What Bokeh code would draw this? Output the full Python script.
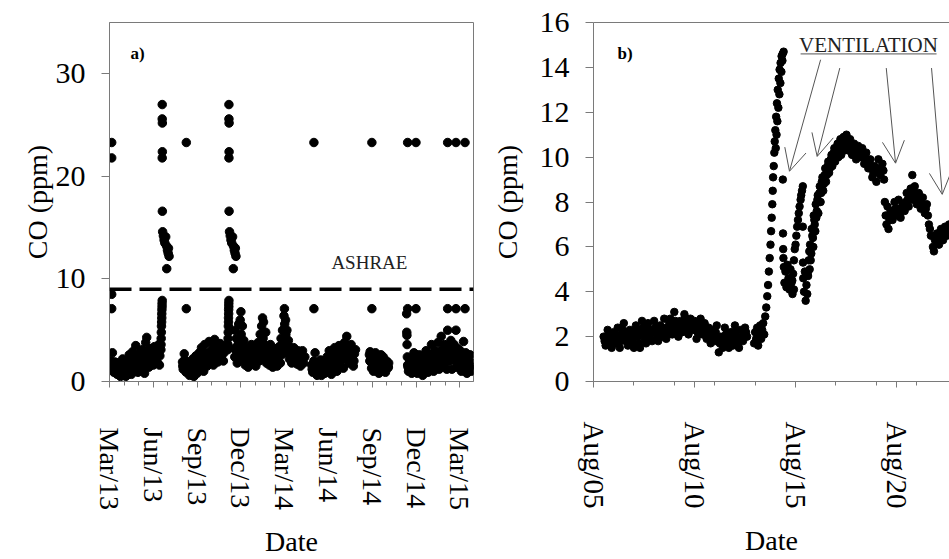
from bokeh.plotting import figure
from bokeh.models import Range1d, FixedTicker, Span, Label, Arrow, OpenHead, LinearAxis
from bokeh.layouts import row
from bokeh.embed import file_html
from bokeh.resources import INLINE

SERIF = "Liberation Serif"
FRAME = "#7a7a7a"

# ---------------- Panel a: months since Mar 2013 ----------------
a_tick_pos = [0, 3, 6, 9, 12, 15, 18, 21, 24]
a_tick_labels = ["Mar/13", "Jun/13", "Sep/13", "Dec/13", "Mar/14",
                 "Jun/14", "Sep/14", "Dec/14", "Mar/15"]
a_minor_pos = list(range(0, 25))
ashrae_limit = 9

a1_month = [0.05, 0.10, 0.15, 0.20, 0.25, 0.30, 0.38, 0.45, 0.52, 0.60, 0.68, 0.75, 0.82, 0.90, 0.98, 1.05,
            1.12, 1.20, 1.28, 1.35, 1.42, 1.50, 1.58, 1.65, 1.72, 1.80, 1.88, 1.95, 2.02, 2.10, 2.18, 2.25,
            2.33, 2.40, 2.48, 2.55, 2.62, 2.70, 2.78, 2.85, 2.92, 3.00, 3.08, 3.15, 3.22, 3.30, 3.38, 3.45]
a1_co = [1.6, 2.0, 1.2, 2.8, 1.5, 0.9, 1.9, 1.3, 0.7, 1.8, 1.1, 0.5, 1.5, 2.2, 0.8, 1.3,
         0.5, 2.0, 1.0, 2.6, 1.5, 0.7, 2.9, 1.8, 1.1, 3.5, 2.3, 0.9, 1.6, 2.8, 1.2, 3.1,
         2.0, 0.8, 3.8, 4.3, 2.4, 1.4, 3.2, 2.0, 2.7, 1.6, 3.4, 2.2, 2.9, 1.8, 3.6, 2.5]
a1h_month = [0.09, 0.22, 0.34, 0.48, 0.64, 0.78, 0.94, 1.09, 1.24, 1.38, 1.54, 1.68, 1.84, 1.98, 2.14,
             2.29, 2.44, 2.58, 2.74, 2.88, 3.04, 3.19, 3.34, 3.42]
a1h_co = [1.3, 1.9, 1.4, 1.0, 1.4, 0.9, 1.6, 0.9, 1.5, 2.1, 1.2, 2.3, 1.5, 2.2, 1.9,
          1.4, 2.6, 3.0, 2.6, 1.7, 2.6, 2.0, 2.9, 1.6]

a_jun_month = [3.52, 3.53, 3.54, 3.55, 3.56, 3.57, 3.58, 3.58, 3.59, 3.60, 3.60, 3.61,
               3.61, 3.61, 3.62, 3.62, 3.61, 3.62,
               3.64, 3.69, 3.74, 3.79, 3.85, 3.91, 3.97, 4.02, 4.08, 4.04, 3.92]
a_jun_co = [3.1, 3.6, 4.2, 4.8, 5.4, 5.8, 6.2, 6.6, 7.0, 7.3, 7.6, 7.9,
            27.0, 25.6, 25.2, 22.4, 21.8, 16.6,
            14.6, 14.2, 13.8, 13.5, 14.1, 13.2, 12.8, 12.5, 12.2, 13.0, 11.0]

a2_month = [5.00, 5.05, 5.12, 5.18, 5.25, 5.32, 5.40, 5.48, 5.55, 5.62, 5.70, 5.78, 5.85, 5.92, 6.00, 6.08,
            6.15, 6.22, 6.30, 6.38, 6.45, 6.52, 6.60, 6.68, 6.75, 6.82, 6.90, 6.98, 7.05, 7.12, 7.20, 7.28,
            7.35, 7.42, 7.50, 7.58, 7.65, 7.72, 7.80, 7.88]
a2_co = [1.9, 1.2, 2.7, 1.6, 0.9, 1.9, 1.3, 0.6, 1.6, 0.9, 2.2, 0.5, 1.4, 2.5, 0.8, 1.8,
         2.8, 1.1, 3.3, 2.0, 1.0, 3.6, 2.3, 1.5, 2.8, 3.9, 1.8, 2.6, 3.2, 1.6, 4.1, 2.6,
         3.4, 1.9, 2.9, 3.7, 2.3, 3.0, 2.0, 3.5]
a2h_month = [5.02, 5.15, 5.28, 5.44, 5.58, 5.74, 5.88, 6.04, 6.18, 6.34, 6.48, 6.64, 6.78, 6.94, 7.08,
             7.24, 7.38, 7.54, 7.68, 7.84]
a2h_co = [1.5, 2.1, 1.3, 1.0, 1.2, 1.5, 1.9, 1.3, 2.2, 2.6, 1.5, 1.9, 2.1, 2.2, 2.4,
          3.4, 2.4, 2.4, 2.6, 2.8]

a_dec_month = [8.10, 8.11, 8.12, 8.13, 8.14, 8.15, 8.15, 8.16, 8.16, 8.17, 8.17, 8.18,
               8.18, 8.18, 8.19, 8.19, 8.18, 8.19,
               8.22, 8.27, 8.32, 8.37, 8.43, 8.49, 8.55, 8.60, 8.66, 8.62, 8.48]
a_dec_co = [3.1, 3.6, 4.2, 4.8, 5.4, 5.8, 6.2, 6.6, 7.0, 7.3, 7.6, 7.9,
            27.0, 25.6, 25.2, 22.4, 21.8, 16.6,
            14.6, 14.2, 13.8, 13.5, 14.1, 13.2, 12.8, 12.5, 12.2, 13.0, 11.0]

a3_month = [8.55, 8.60, 8.65, 8.70, 8.75, 8.80, 8.85, 8.90, 8.95, 9.00, 9.02, 9.05, 9.10, 9.15, 9.20, 9.25,
            9.30, 9.35, 9.42, 9.50, 9.58, 9.65, 9.72, 9.80, 9.88, 9.95, 10.02, 10.10, 10.18, 10.25, 10.32,
            10.38, 10.42, 10.48, 10.52, 10.55, 10.60, 10.65, 10.70, 10.75, 10.82, 10.88, 10.95, 11.02, 11.10,
            11.18, 11.25, 11.32, 11.40, 11.48, 11.55, 11.62, 11.70, 11.75, 11.80, 11.85, 11.90, 11.95, 11.98,
            12.00, 12.03, 12.06, 12.10, 12.15, 12.20, 12.25, 12.32, 12.40, 12.48, 12.55, 12.62, 12.70, 12.78,
            12.85, 12.92, 13.00, 13.08, 13.15, 13.22, 13.30, 13.38]
a3_co = [3.2, 5.0, 2.4, 4.2, 1.8, 3.6, 5.6, 2.9, 6.0, 6.8, 4.6, 3.4, 5.4, 2.2, 4.0, 2.8,
         1.6, 3.3, 2.4, 1.4, 3.0, 2.0, 3.6, 1.7, 2.6, 3.3, 1.5, 2.4, 3.8, 2.0, 4.6,
         3.0, 5.4, 6.2, 4.2, 5.8, 3.6, 2.4, 4.8, 1.8, 3.4, 2.6, 1.6, 3.6, 2.2,
         1.4, 2.9, 2.0, 3.2, 1.5, 2.5, 3.4, 1.8, 4.2, 2.6, 5.0, 3.3, 6.4, 7.1,
         5.6, 4.4, 6.0, 3.6, 5.0, 2.8, 4.0, 2.2, 3.3, 1.8, 2.9, 3.3, 2.1, 2.8,
         1.7, 3.0, 2.2, 1.5, 2.6, 3.0, 1.8, 2.4]
a3h_month = [8.58, 8.72, 8.88, 9.08, 9.22, 9.38, 9.54, 9.68, 9.84, 9.99, 10.14, 10.29, 10.45, 10.62, 10.78,
             10.92, 11.06, 11.22, 11.36, 11.52, 11.66, 11.82, 12.08, 12.22, 12.36, 12.52, 12.66, 12.88,
             13.04, 13.26]
a3h_co = [2.4, 3.0, 4.0, 2.9, 3.2, 2.1, 2.2, 2.6, 2.2, 2.0, 3.0, 2.9, 3.4, 3.0, 2.6,
          2.2, 2.8, 1.8, 2.6, 2.4, 2.6, 3.6, 4.6, 3.4, 2.6, 2.3, 2.6, 2.4, 1.9, 2.3]

a4_month = [13.85, 13.92, 14.00, 14.08, 14.15, 14.22, 14.30, 14.38, 14.45, 14.52, 14.60, 14.68, 14.75, 14.82,
            14.90, 14.98, 15.05, 15.12, 15.20, 15.28, 15.35, 15.42, 15.50, 15.58, 15.65, 15.72, 15.80, 15.88,
            15.95, 16.02, 16.10, 16.18, 16.25, 16.32, 16.40, 16.48, 16.55, 16.62, 16.70, 16.78, 16.85]
a4_co = [1.6, 0.9, 2.0, 2.8, 1.2, 0.6, 1.7, 1.0, 2.1, 0.6, 1.4, 2.0, 0.8, 1.6,
         2.4, 1.0, 3.0, 1.8, 0.7, 2.6, 1.4, 3.3, 2.0, 1.0, 2.8, 3.5, 1.6, 2.5,
         3.0, 1.3, 3.8, 2.2, 4.4, 3.2, 1.8, 2.9, 3.6, 2.3, 1.5, 2.7, 3.1]
a4h_month = [13.88, 14.04, 14.19, 14.34, 14.48, 14.64, 14.79, 14.94, 15.09, 15.24, 15.39, 15.54, 15.69,
             15.84, 15.99, 16.14, 16.29, 16.44, 16.59, 16.74]
a4h_co = [1.2, 1.4, 1.6, 1.3, 1.5, 1.1, 1.2, 1.7, 2.3, 1.6, 2.4, 1.5, 2.0,
          2.1, 2.3, 3.0, 2.6, 2.4, 2.9, 2.0]

a5_month = [17.80, 17.85, 17.90, 17.95, 18.02, 18.08, 18.15, 18.22, 18.30, 18.38,
            18.45, 18.52, 18.60, 18.68, 18.75, 18.82, 18.90, 18.98, 19.05, 19.12]
a5_co = [2.6, 2.9, 1.9, 1.3, 2.4, 1.0, 1.8, 2.8, 1.2, 2.0,
         0.8, 1.6, 2.6, 1.0, 2.4, 1.4, 0.9, 2.0, 1.3, 1.8]
a5h_month = [17.83, 17.98, 18.12, 18.26, 18.42, 18.56, 18.72, 18.86, 19.00, 19.10]
a5h_co = [2.0, 1.8, 1.4, 2.0, 1.5, 2.0, 1.7, 1.8, 1.5, 1.4]

a6_month = [20.35, 20.36, 20.37, 20.38, 20.40, 20.42, 20.48, 20.55, 20.62, 20.70, 20.78, 20.85, 20.92, 21.00,
            21.08, 21.15, 21.22, 21.30, 21.38, 21.45, 21.52, 21.60, 21.68, 21.75, 21.82, 21.90, 21.98, 22.05,
            22.12, 22.20, 22.28, 22.35, 22.42, 22.50, 22.58, 22.65, 22.72, 22.80, 22.88, 22.95, 23.02, 23.10,
            23.16, 23.22, 23.30, 23.38, 23.45, 23.52, 23.60, 23.68, 23.73, 23.80, 23.88, 23.95, 24.02, 24.10,
            24.18, 24.25, 24.32, 24.40, 24.48, 24.55, 24.62, 24.70, 24.78, 24.85, 24.90]
a6_co = [6.6, 4.8, 4.5, 3.6, 2.4, 1.6, 1.0, 2.2, 1.4, 0.8, 1.8, 2.8, 1.2, 2.0,
         0.8, 1.5, 2.6, 1.0, 1.8, 0.6, 2.4, 1.2, 3.0, 1.8, 0.9, 2.6, 1.5, 3.6,
         2.2, 1.0, 3.0, 1.8, 2.6, 3.8, 1.2, 2.2, 4.4, 3.0, 1.6, 3.6, 2.4, 1.2,
         5.0, 3.4, 2.0, 4.0, 1.2, 2.8, 3.6, 2.0, 5.0, 1.4, 3.2, 2.2, 3.0, 1.0,
         2.4, 3.9, 1.6, 2.8, 0.8, 2.0, 1.4, 2.6, 1.0, 1.8, 1.2]
a6h_month = [20.45, 20.58, 20.74, 20.88, 21.04, 21.18, 21.34, 21.48, 21.64, 21.79, 21.94, 22.09, 22.24,
             22.39, 22.54, 22.69, 22.84, 22.99, 23.14, 23.26, 23.42, 23.56, 23.71, 23.84, 23.99, 24.14,
             24.29, 24.44, 24.59, 24.74]
a6h_co = [1.4, 1.8, 1.2, 2.0, 1.4, 2.0, 1.4, 1.4, 1.8, 1.3, 2.0, 2.6, 1.7,
          2.2, 2.4, 3.0, 2.3, 2.8, 2.0, 2.6, 2.6, 2.2, 2.8, 2.4, 1.8, 1.8,
          2.2, 1.8, 2.0, 1.5]

a_out_month = [0.15, 0.15, 0.15, 0.15, 5.26, 5.26, 14.0, 14.0, 17.97, 17.97,
               20.42, 20.42, 20.99, 20.99, 23.16, 23.16, 23.73, 23.73, 24.35, 24.35]
a_out_co = [23.3, 21.8, 8.5, 7.1, 23.3, 7.1, 23.3, 7.1, 23.3, 7.1,
            23.3, 7.1, 23.3, 7.1, 23.3, 7.1, 23.3, 7.1, 23.3, 7.1]

# ---------------- Panel b: day of August ----------------
b_tick_pos = [5, 10, 15, 20]
b_tick_labels = ["Aug/05", "Aug/10", "Aug/15", "Aug/20"]
b_minor_pos = [5, 7, 9, 11, 13, 15, 17, 19, 21]

b1_day = [5.5, 5.6, 5.7, 5.8, 5.9, 6.0, 6.1, 6.2, 6.3, 6.4, 6.5, 6.6, 6.7, 6.8, 6.9, 7.0, 7.1, 7.2,
          7.3, 7.4, 7.5, 7.6, 7.7, 7.8, 7.9, 8.0, 8.1, 8.2, 8.3, 8.4, 8.5, 8.6, 8.7, 8.8, 8.9, 9.0,
          9.1, 9.2, 9.3, 9.4, 9.5, 9.6, 9.7, 9.8, 9.9, 10.0, 10.1, 10.2, 10.3, 10.4, 10.5, 10.6, 10.7,
          10.8, 10.9, 11.0, 11.1, 11.2, 11.3, 11.4, 11.5, 11.6, 11.7, 11.8, 11.9, 12.0, 12.1, 12.2,
          12.3, 12.4, 12.5, 12.6]
b1_co = [2.0, 1.6, 2.3, 1.8, 1.5, 2.2, 1.7, 2.4, 1.5, 2.0, 2.6, 1.8, 1.6, 2.3, 1.9, 1.5, 2.5, 2.0,
         1.5, 2.7, 2.1, 1.7, 2.6, 2.0, 1.8, 2.7, 2.2, 1.8, 2.5, 2.0, 2.8, 1.9, 2.4, 2.8, 2.1, 3.1,
         2.4, 2.0, 2.7, 2.2, 3.0, 2.6, 2.1, 2.8, 2.3, 2.7, 1.9, 2.5, 2.8, 2.1, 2.6, 1.9, 2.4,
         1.7, 2.3, 1.8, 2.5, 1.3, 2.0, 1.5, 2.4, 1.8, 1.5, 2.2, 1.6, 2.5, 1.9, 1.5,
         2.3, 1.8, 2.4, 2.0]

b1h_day = [5.55, 5.65, 5.75, 5.85, 5.95, 6.05, 6.15, 6.25, 6.35, 6.45, 6.55, 6.65, 6.75, 6.85, 6.95,
           7.05, 7.15, 7.25, 7.35, 7.45, 7.55, 7.65, 7.75, 7.85, 7.95, 8.05, 8.15, 8.25, 8.35, 8.45,
           8.55, 8.65, 8.75, 8.85, 8.95, 9.05, 9.15, 9.25, 9.35, 9.45, 9.55, 9.65, 9.75, 9.85, 9.95,
           10.05, 10.15, 10.25, 10.35, 10.45, 10.55, 10.65, 10.75, 10.85, 10.95, 11.05, 11.15, 11.25,
           11.35, 11.45, 11.55, 11.65, 11.75, 11.85, 11.95, 12.05, 12.15, 12.25, 12.35, 12.45, 12.55]
b1h_co = [1.8, 2.0, 2.1, 1.6, 1.9, 2.0, 2.1, 1.8, 1.8, 2.3, 2.2, 1.9, 2.0, 2.1, 1.7,
          2.0, 2.3, 1.7, 2.1, 2.4, 1.9, 2.2, 2.3, 2.3, 2.2, 2.4, 2.0, 2.2, 2.2, 2.4,
          2.3, 2.2, 2.6, 2.4, 2.6, 2.7, 2.2, 2.4, 2.4, 2.6, 2.8, 2.3, 2.5, 2.5, 2.5,
          2.3, 2.2, 2.6, 2.4, 2.4, 2.2, 2.2, 2.0, 2.0, 2.1, 2.2, 1.9, 1.7,
          1.7, 2.0, 2.1, 1.6, 1.9, 1.9, 2.1, 2.2, 1.7, 1.9, 2.0, 2.1, 2.2]

b2_day = [12.95, 13.0, 13.05, 13.1, 13.15, 13.2, 13.25, 13.3, 13.35, 13.4, 13.45, 13.5]
b2_co = [1.7, 2.2, 1.9, 2.4, 1.6, 2.1, 2.5, 1.9, 2.3, 2.6, 2.1, 2.9]

b3_day = [13.55, 13.6, 13.64, 13.68, 13.72, 13.76, 13.79, 13.82, 13.85, 13.87, 13.89, 13.92, 13.95,
          13.97, 14.0, 14.04, 14.08, 14.12, 14.17, 14.21, 14.26, 14.31, 14.36, 14.41,
          14.02, 14.06, 14.1, 14.15, 14.2, 14.25, 14.3, 14.35]
b3_co = [3.3, 3.8, 4.3, 4.9, 5.5, 6.1, 6.7, 7.3, 7.9, 8.5, 9.1, 9.6, 10.2,
         10.7, 11.2, 11.8, 12.4, 13.0, 13.5, 13.9, 14.2, 14.5, 14.6, 14.7,
         10.4, 11.0, 11.6, 12.2, 12.8, 13.3, 13.8, 14.3]

b4_day = [14.37, 14.38, 14.39, 14.40, 14.42, 14.45, 14.5, 14.55, 14.6, 14.65, 14.7, 14.75, 14.8,
          14.85, 14.88, 14.92]
b4_co = [9.0, 6.6, 5.9, 5.5, 5.1, 4.4, 4.9, 4.2, 5.2, 4.6, 4.1, 5.0, 4.4, 3.9, 4.8, 4.1]

b5_day = [14.84, 14.92, 14.96, 15.0, 15.04, 15.08, 15.12, 15.16, 15.2, 15.25, 15.28, 15.32, 15.36,
          15.36, 15.37, 15.38, 15.42, 15.46, 15.5, 15.54, 15.58, 15.62]
b5_co = [4.5, 5.4, 5.9, 6.1, 6.5, 6.9, 7.2, 7.5, 7.8, 8.1, 8.3, 8.5, 8.7,
         6.9, 5.3, 4.6, 4.0, 4.9, 3.6, 4.3, 3.9, 4.7]

b6_day = [15.6, 15.65, 15.7, 15.72, 15.78, 15.8, 15.86, 15.9, 15.95, 16.0, 16.05, 16.1, 16.15, 16.2,
          16.27, 16.33, 16.4, 16.47, 16.55, 16.62, 16.7, 16.78, 16.85, 16.92, 17.0, 17.08, 17.15,
          17.22, 17.3, 17.38, 17.45, 17.52]
b6_co = [4.8, 5.4, 5.0, 6.1, 5.7, 6.8, 6.4, 7.4, 7.0, 7.9, 7.6, 8.3, 8.0, 8.7,
         8.4, 9.1, 8.8, 9.5, 9.2, 9.8, 9.5, 10.1, 9.8, 10.4, 10.0, 10.6, 10.2,
         10.8, 10.3, 10.9, 10.5, 11.0]

b6h_day = [15.68, 15.75, 15.83, 15.88, 15.93, 15.98, 16.03, 16.08, 16.13, 16.18, 16.24, 16.3, 16.37,
           16.44, 16.51, 16.59, 16.66, 16.74, 16.82, 16.89, 16.96, 17.04, 17.12, 17.19, 17.26, 17.34,
           17.42, 17.49, 17.56]
b6h_co = [5.8, 5.4, 6.5, 6.0, 7.2, 6.7, 7.3, 8.1, 7.5, 8.4, 8.0, 8.9, 8.5,
          9.2, 8.9, 9.6, 9.3, 9.9, 9.6, 10.2, 9.8, 10.4, 10.0, 10.6, 10.1, 10.7,
          10.3, 10.8, 10.4]

b7_day = [17.6, 17.7, 17.8, 17.9, 18.0, 18.1, 18.2, 18.3, 18.4, 18.5, 18.6, 18.7, 18.8, 18.9, 19.0,
          19.1, 19.2, 19.3, 19.38, 19.42, 19.46, 19.5, 19.55, 19.6, 19.7, 19.8, 19.9, 20.0, 20.1,
          20.2, 20.3, 20.4, 20.5, 20.6, 20.7, 20.78, 20.8, 20.9, 21.0, 21.1, 21.2, 21.3, 21.4, 21.5,
          21.6, 21.7, 21.8, 21.85, 21.9, 22.0, 22.1, 22.2, 22.3, 22.4, 22.5, 22.6]
b7_co = [10.3, 10.8, 10.1, 10.6, 9.9, 10.5, 10.0, 10.4, 9.7, 10.2, 9.5, 9.9, 9.1, 9.6, 8.9,
         9.9, 9.2, 9.7, 9.0, 8.0, 7.4, 7.0, 7.8, 6.8, 7.6, 7.2, 8.0, 7.4, 8.1,
         7.3, 7.9, 7.6, 8.4, 7.8, 8.6, 9.2, 8.1, 8.7, 7.9, 8.4, 7.7, 8.2, 7.5, 7.9,
         7.0, 6.5, 6.0, 5.8, 6.3, 6.6, 6.1, 6.8, 6.3, 6.9, 6.5, 7.0]

b7h_day = [17.65, 17.75, 17.85, 17.95, 18.05, 18.15, 18.25, 18.35, 18.45, 18.55, 18.65, 18.75, 18.85,
           18.95, 19.05, 19.15, 19.25, 19.35, 19.65, 19.75, 19.85, 19.95, 20.05, 20.15, 20.25, 20.35,
           20.45, 20.55, 20.65, 20.85, 20.95, 21.05, 21.15, 21.25, 21.35, 21.45, 21.55, 21.65, 21.95,
           22.05, 22.15, 22.25, 22.35, 22.45, 22.55, 22.65]
b7h_co = [10.5, 10.4, 10.4, 10.2, 10.2, 10.3, 10.2, 10.0, 9.9, 9.8, 9.7, 9.5, 9.3,
          9.3, 9.4, 9.5, 9.4, 9.4, 7.2, 7.4, 7.6, 7.7, 7.7, 7.7, 7.6, 7.8,
          8.0, 8.1, 8.2, 8.4, 8.3, 8.1, 8.0, 7.9, 7.8, 7.7, 7.4, 6.8, 6.4,
          6.4, 6.5, 6.6, 6.6, 6.7, 6.8, 6.6]

# ventilation arrows: (x_start, y_start, x_end, y_end) in day / ppm
vent_x0 = [16.24, 17.19, 19.49, 21.73]
vent_y0 = [14.34, 13.97, 13.97, 13.97]
vent_x1 = [14.70, 16.07, 19.95, 22.26]
vent_y1 = [9.37, 10.03, 9.73, 8.34]

a_month = (a1_month + a1h_month + a_jun_month + a2_month + a2h_month + a_dec_month + a3_month + a3h_month
           + a4_month + a4h_month + a5_month + a5h_month + a6_month + a6h_month + a_out_month)
a_co = (a1_co + a1h_co + a_jun_co + a2_co + a2h_co + a_dec_co + a3_co + a3h_co
        + a4_co + a4h_co + a5_co + a5h_co + a6_co + a6h_co + a_out_co)
b_day = b1_day + b1h_day + b2_day + b3_day + b4_day + b5_day + b6_day + b6h_day + b7_day + b7h_day
b_co = b1_co + b1h_co + b2_co + b3_co + b4_co + b5_co + b6_co + b6h_co + b7_co + b7h_co


def style(p, xticks, xminor, xlabels, yticks, xfs, xstand, xlabstand, ylabstand):
    p.xgrid.visible = False
    p.ygrid.visible = False
    p.background_fill_color = "white"
    p.border_fill_color = "white"
    xa = p.xaxis[0]
    xa.ticker = FixedTicker(ticks=xticks, minor_ticks=xminor)
    xa.major_label_overrides = {t: l for t, l in zip(xticks, xlabels)}
    xa.major_label_orientation = "vertical"
    xa.major_label_text_font = SERIF
    xa.major_label_text_font_size = xfs
    xa.major_label_text_color = "black"
    xa.major_label_standoff = xstand
    xa.major_tick_out = 6
    xa.major_tick_in = 0
    xa.minor_tick_out = 4
    xa.minor_tick_in = 0
    xa.axis_line_color = FRAME
    xa.major_tick_line_color = FRAME
    xa.minor_tick_line_color = FRAME
    xa.axis_label = "Date"
    xa.axis_label_text_font = SERIF
    xa.axis_label_text_font_size = "28px"
    xa.axis_label_text_font_style = "normal"
    xa.axis_label_text_color = "black"
    xa.axis_label_standoff = xlabstand

    ya = p.yaxis[0]
    ya.ticker = FixedTicker(ticks=yticks, minor_ticks=[])
    ya.major_label_text_font = SERIF
    ya.major_label_text_font_size = "30px"
    ya.major_label_text_color = "black"
    ya.major_label_standoff = 16
    ya.major_tick_out = 8
    ya.major_tick_in = 0
    ya.minor_tick_line_color = None
    ya.axis_line_color = FRAME
    ya.major_tick_line_color = FRAME
    ya.axis_label = "CO (ppm)"
    ya.axis_label_text_font = SERIF
    ya.axis_label_text_font_size = "28px"
    ya.axis_label_text_font_style = "normal"
    ya.axis_label_text_color = "black"
    ya.axis_label_standoff = ylabstand


# ---------------- figure a ----------------
pa = figure(width=488, height=559, x_range=Range1d(0, 24.93), y_range=Range1d(0, 35),
            output_backend="svg", toolbar_location=None,
            min_border_left=109, min_border_right=15, min_border_top=22, min_border_bottom=173)
pa.outline_line_color = FRAME
style(pa, a_tick_pos, a_minor_pos, a_tick_labels, [0, 10, 20, 30], "28px", 40, 13, 0)

pa.add_layout(Span(location=ashrae_limit, dimension="width", line_color="black",
                   line_width=3.5, line_dash="22 8"))
pa.scatter(a_month, a_co, size=8.5, color="black")
pa.add_layout(Label(x=1.44, y=32.0, text="a)", text_font=SERIF, text_font_style="bold",
                    text_font_size="17px", text_baseline="middle", text_align="left", text_color="black"))
pa.add_layout(Label(x=17.8, y=11.6, text="ASHRAE", text_font=SERIF, text_font_size="19px",
                    text_baseline="middle", text_align="center", text_color="#222222"))

# ---------------- figure b ----------------
pb = figure(width=461, height=559, x_range=Range1d(5.0, 22.62), y_range=Range1d(0, 16),
            output_backend="svg", toolbar_location=None,
            min_border_left=105, min_border_right=0, min_border_top=22, min_border_bottom=172)
pb.outline_line_color = None
style(pb, b_tick_pos, b_minor_pos, b_tick_labels, list(range(0, 17, 2)), "29px", 34, 13, 14)
top = LinearAxis(ticker=FixedTicker(ticks=[], minor_ticks=[]), major_label_text_font_size="0px",
                 axis_line_color=FRAME, major_tick_line_color=None, minor_tick_line_color=None)
pb.add_layout(top, "above")

pb.scatter(b_day, b_co, size=7.5, color="black")
pb.add_layout(Label(x=6.19, y=14.64, text="b)", text_font=SERIF, text_font_style="bold",
                    text_font_size="17px", text_baseline="middle", text_align="left", text_color="black"))
pb.add_layout(Label(x=18.61, y=15.0, text="VENTILATION", text_font=SERIF, text_font_size="21px",
                    text_baseline="middle", text_align="center", text_color="#222222"))
pb.add_layout(Arrow(end=None, x_start=15.25, y_start=14.6, x_end=21.98, y_end=14.6,
                    line_color="#555555", line_width=1))
for xs, ys, xe, ye in zip(vent_x0, vent_y0, vent_x1, vent_y1):
    pb.add_layout(Arrow(end=OpenHead(size=22, line_color="#555555", line_width=1),
                        x_start=xs, y_start=ys, x_end=xe, y_end=ye,
                        line_color="#555555", line_width=1))

layout = row(pa, pb)
open("out.html", "w").write(file_html(layout, INLINE))
